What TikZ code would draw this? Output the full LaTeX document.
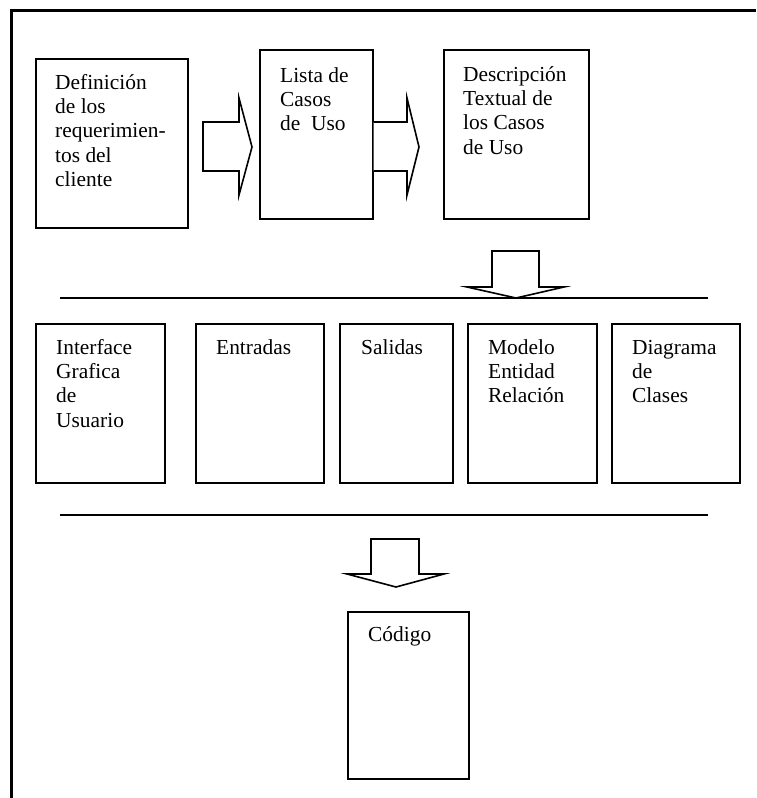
\documentclass[tikz,border=0pt]{standalone}
\usepackage{fontspec}
\setmainfont{Liberation Serif}
\begin{document}
\begin{tikzpicture}[x=1pt,y=-1pt,line join=miter,
  box/.style={draw,line width=1.7pt,inner sep=0pt,anchor=north west},
  txt/.style={inner sep=0pt,anchor=north west,align=left,font=\fontsize{21.4}{24.3}\selectfont},
  blockarrow/.style={draw,line width=1.6pt,fill=white},
  rule/.style={line width=1.7pt},
  frame/.style={line width=2.6pt}]
\useasboundingbox (0,0) rectangle (756,798);
% frame
\coordinate (fbl) at (11.5,798);
\coordinate (ftl) at (11.5,10.5);
\coordinate (ftr) at (756,10.5);
\draw[frame] (fbl) -- (ftl) -- (ftr);
% top row boxes
\node[box,minimum width=152pt,minimum height=169pt] (b1) at (35,58) {};
\node[box,minimum width=113pt,minimum height=169pt] (b2) at (259,49) {};
\node[box,minimum width=145pt,minimum height=169pt] (b3) at (443,49) {};
\node[txt] (t1) at (55,72) {\rule{0pt}{17pt}Definición\\de los\\requerimien-\\tos del\\cliente};
\node[txt] (t2) at (280,65) {\rule{0pt}{17pt}Lista de\\Casos\\de\ \ Uso};
\node[txt] (t3) at (463,64) {\rule{0pt}{17pt}Descripción\\Textual de\\los Casos\\de Uso};
% right block arrows
\draw[blockarrow] (203,122) -- (239,122) -- (239,98) -- (252,147) -- (239,195) -- (239,171) -- (203,171) -- cycle;
\draw[blockarrow] (b2.east |- 0,122) -- (407,122) -- (407,98) -- (419,147) -- (407,195) -- (407,171) -- (b2.east |- 0,171);
% down arrow 1
\draw[blockarrow] (492,287) -- (492,251) -- (539,251) -- (539,287) -- (564,287) -- (516,298) -- (467,287) -- cycle;
% separator lines
\coordinate (l1a) at (60,298);
\coordinate (l1b) at (708,298);
\draw[rule] (l1a) -- (l1b);
\coordinate (l2a) at (60,515);
\coordinate (l2b) at (708,515);
\draw[rule] (l2a) -- (l2b);
% middle row
\node[box,minimum width=129pt,minimum height=159pt] (m1) at (35,323) {};
\node[box,minimum width=128pt,minimum height=159pt] (m2) at (195,323) {};
\node[box,minimum width=113pt,minimum height=159pt] (m3) at (339,323) {};
\node[box,minimum width=129pt,minimum height=159pt] (m4) at (467,323) {};
\node[box,minimum width=128pt,minimum height=159pt] (m5) at (611,323) {};
\node[txt] (tm1) at (56,337) {\rule{0pt}{17pt}Interface\\Grafica\\de\\Usuario};
\node[txt] (tm2) at (216,337) {\rule{0pt}{17pt}Entradas};
\node[txt] (tm3) at (361,337) {\rule{0pt}{17pt}Salidas};
\node[txt] (tm4) at (488,337) {\rule{0pt}{17pt}Modelo\\Entidad\\Relación};
\node[txt] (tm5) at (632,337) {\rule{0pt}{17pt}Diagrama\\de\\Clases};
% down arrow 2
\draw[blockarrow] (371,574) -- (371,539) -- (419,539) -- (419,574) -- (444,574) -- (396,587) -- (347,574) -- cycle;
% bottom box
\node[box,minimum width=121pt,minimum height=167pt] (c1) at (347,611) {};
\node[txt] (tc1) at (368,624) {\rule{0pt}{17pt}Código};
\end{tikzpicture}
\end{document}
